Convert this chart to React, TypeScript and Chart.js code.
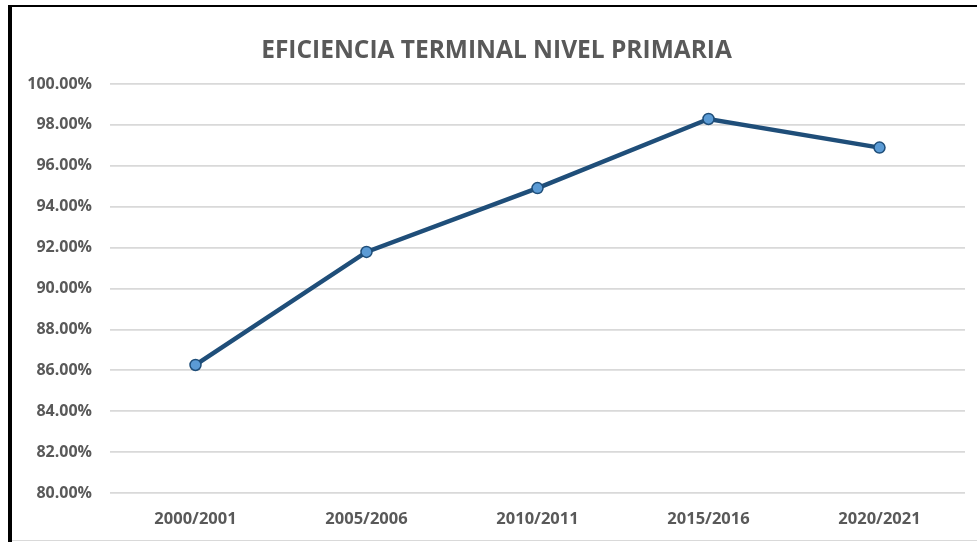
import React, { useEffect, useRef } from "react";
import { Chart, registerables } from "chart.js";

Chart.register(...registerables);

const categories = ["2000/2001", "2005/2006", "2010/2011", "2015/2016", "2020/2021"];
const eficiencia = [86.26, 91.79, 94.91, 98.29, 96.89];
const titleText = "EFICIENCIA TERMINAL NIVEL PRIMARIA";
const yMin = 80;
const yMax = 100;
const yStep = 2;

export default function App() {
  const ref = useRef<HTMLCanvasElement | null>(null);

  useEffect(() => {
    if (!ref.current) return;
    const chart = new Chart(ref.current, {
      type: "line",
      data: {
        labels: categories,
        datasets: [
          {
            label: "Eficiencia terminal",
            data: eficiencia,
            borderColor: "#1F4E79",
            borderWidth: 4.5,
            pointRadius: 5.5,
            pointBackgroundColor: "#5B9BD5",
            pointBorderColor: "#1F4E79",
            pointBorderWidth: 1.5,
            tension: 0,
          },
        ],
      },
      options: {
        animation: false,
        responsive: false,
        layout: { padding: { left: 28, right: 12, top: 0, bottom: 0 } },
        plugins: {
          legend: { display: false },
          tooltip: { enabled: false },
          title: {
            display: true,
            text: titleText,
            color: "#595959",
            font: { family: "'Open Sans', sans-serif", size: 24.5, weight: "bold" },
            padding: { top: 36, bottom: 18.6 },
          },
        },
        scales: {
          x: {
            offset: true,
            grid: { display: false, drawTicks: false },
            border: { display: false },
            ticks: {
              color: "#595959",
              font: { family: "'Open Sans', sans-serif", size: 16.5, weight: "bold" },
              padding: 16,
              maxRotation: 0,
            },
            afterFit: (scale: any) => {
              scale.height = 49;
            },
          },
          y: {
            min: yMin,
            max: yMax,
            grid: { color: "#d9d9d9", lineWidth: 1.8, drawTicks: false },
            border: { display: false },
            ticks: {
              stepSize: yStep,
              color: "#595959",
              font: { family: "'Open Sans', sans-serif", size: 16, weight: "bold" },
              padding: 18,
              callback: (v: any) => Number(v).toFixed(2) + "%",
            },
            afterFit: (scale: any) => {
              scale.width = 82;
            },
          },
        },
      },
    });
    return () => chart.destroy();
  }, []);

  return (
    <div style={{ position: "absolute", left: 0, top: 0, width: 977, height: 542, background: "#fff", overflow: "hidden" }}>
      <div style={{ position: "absolute", left: 8, top: 5, width: 4, height: 537, background: "#000" }} />
      <div style={{ position: "absolute", left: 8, top: 5, width: 969, height: 1.5, background: "#000" }} />
      <div style={{ position: "absolute", left: 12, top: 540, width: 965, height: 1, background: "#d9d9d9" }} />
      <canvas ref={ref} width={977} height={542} style={{ position: "absolute", left: 0, top: 0 }} />
    </div>
  );
}
